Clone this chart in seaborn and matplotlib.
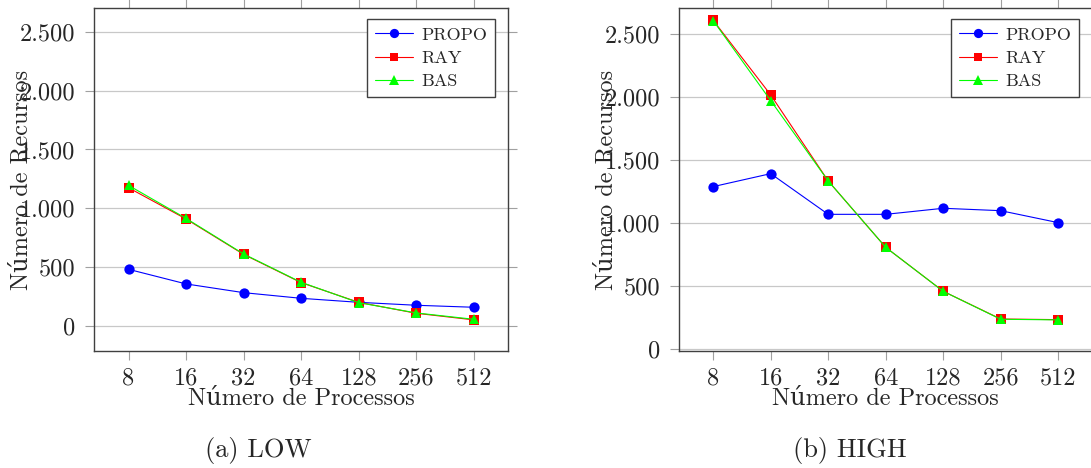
import numpy as np
import pandas as pd
import matplotlib
matplotlib.use("Agg")
import matplotlib.pyplot as plt
from matplotlib.lines import Line2D
import seaborn as sns

# ---------------- data ----------------
processos = ["8", "16", "32", "64", "128", "256", "512"]
series_names = ["PROPO", "RAY", "BAS"]

low_propo = [483, 359, 285, 237, 203, 178, 161]
low_ray = [1175, 910, 610, 370, 203, 110, 54]
low_bas = [1195, 915, 613, 373, 200, 113, 59]

high_propo = [1286, 1389, 1066, 1066, 1114, 1095, 1000]
high_ray = [2606, 2014, 1331, 804, 455, 235, 230]
high_bas = [2604, 1969, 1331, 804, 455, 233, 228]

ytick_vals = [0, 500, 1000, 1500, 2000, 2500]
ytick_labels = ["0", "500", "1.000", "1.500", "2.000", "2.500"]

captions = ["(a) LOW", "(b) HIGH"]
xlabel = "Número de Processos"
ylabel = "Número de Recursos"

# ---------------- style ----------------
sns.set_theme(style="white")
plt.rcParams["font.family"] = ["cmr10", "DejaVu Serif"]
plt.rcParams["axes.formatter.use_mathtext"] = True
plt.rcParams["mathtext.fontset"] = "cm"

colors = ["#0000ff", "#ff0000", "#00ff00"]
markers = ["o", "s", "^"]
msizes = [7.4, 6.9, 7.4]
FS = 17.5


def make_df(propo, ray, bas):
    rows = []
    for name, vals in zip(series_names, [propo, ray, bas]):
        for p, v in zip(processos, vals):
            rows.append({"proc": p, "val": v, "serie": name})
    return pd.DataFrame(rows)


fig = plt.figure(figsize=(10.91, 4.68), dpi=100)
W, H = 1091.0, 468.0
ax1 = fig.add_axes([94 / W, 117 / H, 414.3 / W, 343 / H])
ax2 = fig.add_axes([678.7 / W, 117 / H, 414.0 / W, 343 / H])

panels = [
    (ax1, make_df(low_propo, low_ray, low_bas), (-210, 2700), 258, 94.0),
    (ax2, make_df(high_propo, high_ray, high_bas), (-19, 2704), 850, 678.7),
]

for (ax, df, ylim, capx, left_px), cap in zip(panels, captions):
    ax.set_axisbelow(True)
    ax.yaxis.grid(True, color="#c8c8c8", linewidth=0.9)
    ax.xaxis.grid(False)
    for name, col, mk, ms in zip(series_names, colors, markers, msizes):
        sub = df[df["serie"] == name]
        sns.pointplot(data=sub, x="proc", y="val", order=processos,
                      color=col, markers=mk, linestyles="-",
                      linewidth=0.8, markersize=ms, markeredgewidth=0,
                      errorbar=None, ax=ax)
    ax.set_xlim(-0.6, 6.6)
    ax.set_ylim(*ylim)
    ax.set_yticks(ytick_vals)
    ax.set_yticklabels(ytick_labels)
    ax.set_xticks(range(len(processos)))
    ax.set_xticklabels(processos)
    ax.tick_params(axis="both", which="both", direction="out", length=6.5,
                   width=0.8, color="#a0a0a0", labelsize=FS,
                   top=True, right=True, bottom=True, left=True,
                   labeltop=False, labelright=False)
    ax.tick_params(axis="y", pad=7)
    ax.tick_params(axis="x", pad=5)
    for sp in ax.spines.values():
        sp.set_color("#404040")
        sp.set_linewidth(1.0)
        sp.set_visible(True)
    ax.set_xlabel(xlabel, fontsize=FS)
    ax.xaxis.set_label_coords(0.5, -0.108)
    ax.set_ylabel(ylabel, fontsize=FS)
    ax.yaxis.label.set_va("center")
    lab_x = 21 if ax is ax1 else 606
    ax.yaxis.set_label_coords((lab_x - left_px) / 414.0, 0.5)

    handles = [Line2D([0], [0], color=c, marker=m, markersize=ms * 0.9,
                      markeredgewidth=0, linewidth=0.8, alpha=1)
               for c, m, ms in zip(colors, markers, msizes)]
    leg = ax.legend(handles, series_names, loc="upper right",
                    bbox_to_anchor=(0.968, 0.968), borderaxespad=0,
                    fontsize=13, frameon=True, fancybox=False,
                    framealpha=1, edgecolor="#404040",
                    handlelength=2.1, handletextpad=0.45,
                    labelspacing=0.42, borderpad=0.45)
    leg.get_frame().set_linewidth(1.0)

    fig.text(capx / W, 1 - 450 / H, cap, ha="center", va="center", fontsize=19)

fig.savefig("out.png", dpi=100)
